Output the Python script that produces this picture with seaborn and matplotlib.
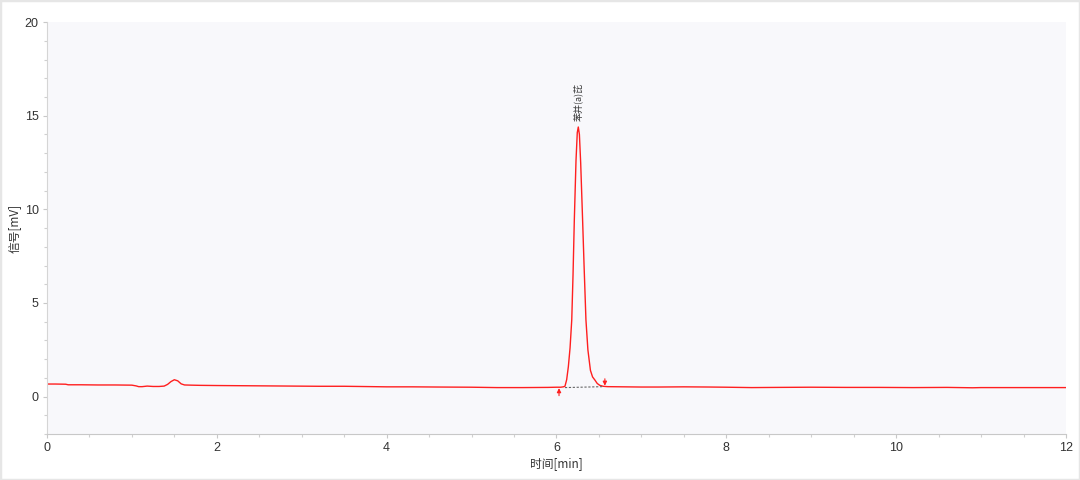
import numpy as np
import pandas as pd
import matplotlib
matplotlib.use("Agg")
import matplotlib.pyplot as plt
import seaborn as sns
from matplotlib.patches import Rectangle
from matplotlib.ticker import MultipleLocator

# chromatogram trace (time in min, signal in mV)
time = [0.00, 0.10, 0.22, 0.25, 0.40, 0.60, 0.80, 1.00, 1.05, 1.08, 1.12, 1.18, 1.25, 1.32,
        1.38, 1.42, 1.46, 1.50, 1.54, 1.58, 1.62, 1.70, 1.80, 2.00, 2.30, 2.60, 2.90, 3.20,
        3.50, 3.84, 4.00, 4.30, 4.60, 5.00, 5.30, 5.60, 5.90, 6.00, 6.05, 6.08, 6.10, 6.12,
        6.14, 6.16, 6.18, 6.195, 6.21, 6.23, 6.245, 6.257, 6.27, 6.285, 6.308, 6.325, 6.347,
        6.37, 6.40, 6.425, 6.453, 6.48, 6.51, 6.55, 6.60, 6.80, 7.00, 7.20, 7.50, 7.80, 8.00,
        8.30, 8.60, 9.00, 9.40, 9.80, 10.20, 10.60, 10.90, 11.00, 11.30, 11.60, 12.00]
signal = [0.67, 0.67, 0.66, 0.63, 0.63, 0.62, 0.62, 0.61, 0.57, 0.53, 0.53, 0.56, 0.54, 0.54,
          0.56, 0.65, 0.80, 0.90, 0.84, 0.68, 0.62, 0.61, 0.60, 0.59, 0.58, 0.57, 0.56, 0.55,
          0.55, 0.53, 0.52, 0.52, 0.51, 0.50, 0.48, 0.48, 0.49, 0.50, 0.50, 0.52, 0.55, 0.90,
          1.60, 2.60, 4.10, 6.50, 9.40, 12.60, 14.10, 14.40, 14.00, 12.50, 9.40, 7.00, 4.10,
          2.50, 1.40, 1.05, 0.88, 0.70, 0.60, 0.55, 0.53, 0.52, 0.51, 0.51, 0.52, 0.51, 0.50,
          0.48, 0.49, 0.50, 0.49, 0.49, 0.48, 0.49, 0.47, 0.48, 0.48, 0.48, 0.48]

peak_name = "苯并(a)芘"
peak_time = 6.257
peak_height = 14.4
# integration baseline and start / end markers
baseline_t = [6.10, 6.55]
baseline_y = [0.48, 0.53]
start_mark = (6.03, 0.45, 0.05)   # time, arrow tip, arrow tail
end_mark = (6.57, 0.58, 0.95)

df = pd.DataFrame({"t": time, "mV": signal})

sns.set_style("white")
plt.rcParams["font.family"] = ["Liberation Sans", "Noto Sans CJK SC", "DejaVu Sans"]

fig = plt.figure(figsize=(10.8, 4.8), dpi=100)
ax = fig.add_axes([0.0435, 0.0958, 0.9435, 0.858])
ax.set_facecolor("#f8f8fb")

sns.lineplot(data=df, x="t", y="mV", ax=ax, color="#ff1f1f", lw=1.0)
ax.plot(baseline_t, baseline_y, color="#666666", lw=0.8, ls=(0, (2, 1.5)))
for t, tip, tail in [start_mark, end_mark]:
    ax.annotate("", xy=(t, tip), xytext=(t, tail),
                arrowprops=dict(arrowstyle="-|>", color="#ff1f1f", lw=0.8,
                                mutation_scale=6, shrinkA=0, shrinkB=0))
ax.text(peak_time, peak_height + 0.3, peak_name, rotation=90, ha="center", va="bottom",
        fontsize=6.5, color="#333333", family=["Noto Sans CJK SC", "DejaVu Sans"])

ax.set_xlim(0, 12)
ax.set_ylim(-2, 20)
ax.xaxis.set_major_locator(MultipleLocator(2))
ax.xaxis.set_minor_locator(MultipleLocator(0.5))
ax.yaxis.set_major_locator(MultipleLocator(5))
ax.yaxis.set_minor_locator(MultipleLocator(1))

for s in ["top", "right"]:
    ax.spines[s].set_visible(False)
ax.spines["left"].set_color("#d5d5d5")
ax.spines["bottom"].set_color("#c8c8c8")
ax.tick_params(which="both", bottom=True, left=True, direction="out")
ax.tick_params(which="major", length=3, width=0.8, color="#c8c8c8", labelsize=9,
               labelcolor="#333333", pad=3)
ax.tick_params(which="minor", length=2.5, width=0.8, color="#d0d0d0")

ax.set_xlabel("时间[min]", fontsize=8.5, color="#333333", labelpad=2,
              family=["Noto Sans CJK SC", "DejaVu Sans"])
ax.set_ylabel("信号[mV]", fontsize=8.5, color="#333333", labelpad=3,
              family=["Noto Sans CJK SC", "DejaVu Sans"])

fig.patches.append(Rectangle((0, 0), 1, 1, transform=fig.transFigure, fill=False,
                             edgecolor="#e6e6e6", lw=2.5))

plt.savefig("out.png", dpi=100)
